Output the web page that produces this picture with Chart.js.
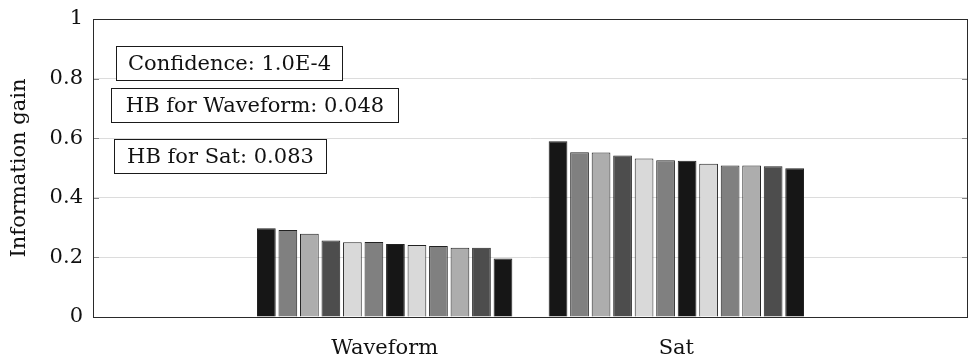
<!DOCTYPE html>
<html>
<head>
<meta charset="utf-8">
<script src="https://cdn.jsdelivr.net/npm/chart.js@4/dist/chart.umd.min.js"></script>
<style>
  html, body { margin: 0; padding: 0; background: #fff; }
  canvas { display: block; }
</style>
</head>
<body>
<canvas id="chart" width="971" height="359"></canvas>
<script>
// empty slots on both ends give the pgfplots-style wide x margins
const categories = ["", "Waveform", "Sat", ""]
const waveformGain = [0.298, 0.292, 0.279, 0.257, 0.251, 0.252, 0.245, 0.242, 0.238, 0.232, 0.232, 0.196]
const satGain = [0.590, 0.553, 0.552, 0.542, 0.532, 0.526, 0.524, 0.514, 0.508, 0.508, 0.506, 0.499]
const barFills = ["#161616", "#808080", "#adadad", "#4d4d4d", "#d9d9d9", "#808080",
                  "#161616", "#d9d9d9", "#808080", "#adadad", "#4d4d4d", "#161616"]
const yTicks = [0, 0.2, 0.4, 0.6, 0.8, 1]
const notes = ["Confidence: 1.0E-4", "HB for Waveform: 0.048", "HB for Sat: 0.083"]

const FONT = "'DejaVu Serif', 'Liberation Serif', serif"
const FONT_SIZE = 21

const datasets = barFills.map((fill, i) => ({
  label: "run " + (i + 1),
  data: [null, waveformGain[i], satGain[i], null],
  backgroundColor: fill,
  borderColor: "#222",
  borderWidth: 1,
  categoryPercentage: 0.885,
  barPercentage: 0.87
}))

// note boxes: offsets from the plot's top-left corner, fixed widths
const noteBoxes = [
  { text: notes[0], dx: 23, dy: 27, w: 226, h: 34 },
  { text: notes[1], dx: 18, dy: 69, w: 287, h: 34 },
  { text: notes[2], dx: 21, dy: 120, w: 212, h: 34 }
]

const framePlugin = {
  id: "frame",
  afterDraw(chart) {
    const { ctx, chartArea: a, scales } = chart
    ctx.save()
    // small tick stubs on both inner sides
    ctx.strokeStyle = "#8a8a8a"
    ctx.lineWidth = 1
    yTicks.slice(1, -1).forEach(v => {
      const y = Math.round(scales.y.getPixelForValue(v)) + 0.5
      ctx.beginPath()
      ctx.moveTo(a.left, y); ctx.lineTo(a.left + 6, y)
      ctx.moveTo(a.right - 6, y); ctx.lineTo(a.right, y)
      ctx.stroke()
    })
    // axis box
    ctx.strokeStyle = "#2a2a2a"
    ctx.strokeRect(Math.round(a.left) + 0.5, Math.round(a.top) + 0.5,
                   Math.round(a.right - a.left) - 1, Math.round(a.bottom - a.top))
    // annotation boxes
    ctx.font = FONT_SIZE + "px " + FONT
    ctx.textAlign = "center"
    ctx.textBaseline = "middle"
    noteBoxes.forEach(b => {
      const x = Math.round(a.left + b.dx) + 0.5
      const y = Math.round(a.top + b.dy) + 0.5
      ctx.fillStyle = "#fff"
      ctx.fillRect(x, y, b.w, b.h)
      ctx.strokeStyle = "#1a1a1a"
      ctx.strokeRect(x, y, b.w, b.h)
      ctx.fillStyle = "#111"
      ctx.fillText(b.text, x + b.w / 2, y + b.h / 2 + 1)
    })
    ctx.restore()
  }
}

new Chart(document.getElementById("chart"), {
  type: "bar",
  data: { labels: categories, datasets: datasets },
  options: {
    responsive: false,
    devicePixelRatio: 1,
    animation: false,
    layout: { padding: { top: 19, right: 3, left: 0, bottom: 0 } },
    plugins: {
      legend: { display: false },
      tooltip: { enabled: false }
    },
    scales: {
      x: {
        offset: false,
        grid: { display: false, drawTicks: false },
        border: { display: false },
        ticks: {
          color: "#111",
          padding: 19,
          autoSkip: false,
          maxRotation: 0,
          font: { family: FONT, size: FONT_SIZE }
        },
        afterFit(scale) {
          scale.height = 42
          scale.paddingLeft = 0
          scale.paddingRight = 0
        }
      },
      y: {
        min: 0,
        max: 1,
        grid: { color: "#dcdcdc", drawTicks: false },
        border: { display: false },
        ticks: {
          stepSize: 0.2,
          color: "#111",
          padding: 10,
          font: { family: FONT, size: FONT_SIZE },
          callback: v => String(+v.toFixed(2))
        },
        title: {
          display: true,
          text: "Information gain",
          color: "#111",
          padding: { top: 7, bottom: 0 },
          font: { family: FONT, size: FONT_SIZE }
        },
        afterFit(scale) {
          scale.width = 93
          scale.paddingTop = 0
          scale.paddingBottom = 0
        }
      }
    }
  },
  plugins: [framePlugin]
})
</script>
</body>
</html>
